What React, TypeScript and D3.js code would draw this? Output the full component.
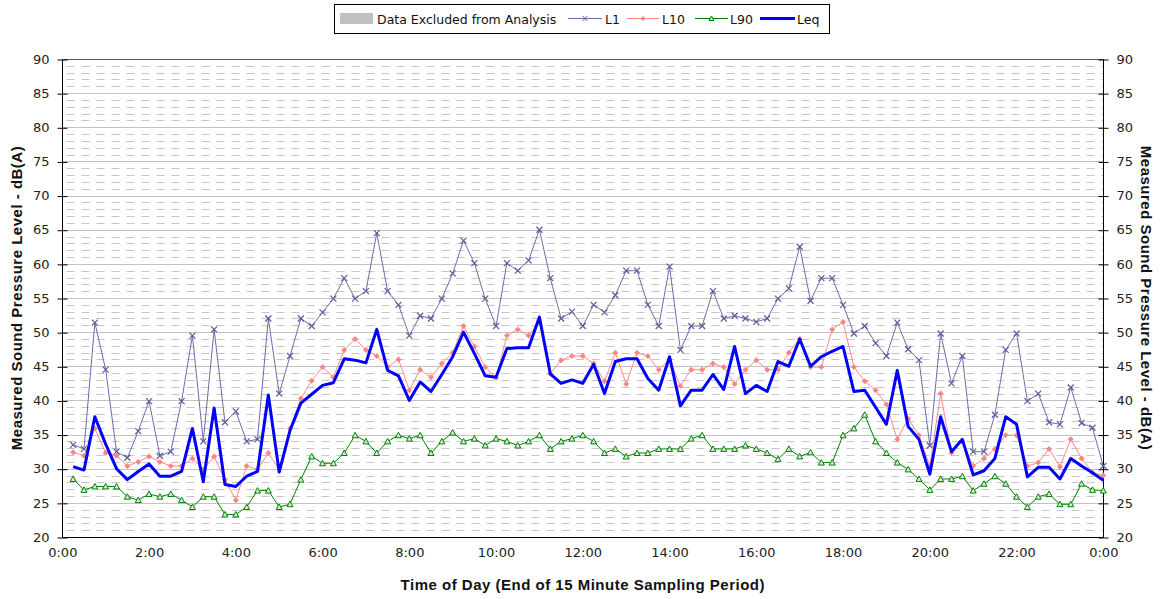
import React, { useRef, useEffect } from 'react';
import * as d3 from 'd3';

// end of each 15 minute sampling period, minutes after midnight
const periodEnd = d3.range(15, 1441, 15);

const l1 = [
  33.5, 32.9, 51.4, 44.5, 32.5, 31.6, 35.5, 39.9, 31.9, 32.5, 39.9, 49.5,
  34.0, 50.4, 36.8, 38.4, 34.0, 34.3, 52.0, 41.0, 46.5, 52.0, 50.9, 52.9,
  54.9, 57.9, 54.9, 56.0, 64.5, 56.0, 54.0, 49.5, 52.4, 52.0, 54.9, 58.6,
  63.4, 60.1, 54.9, 50.9, 60.1, 59.0, 60.5, 65.0, 57.9, 52.0, 53.0, 50.9,
  54.0, 52.9, 55.4, 59.0, 59.0, 54.0, 50.9, 59.6, 47.4, 50.9, 50.9, 56.0,
  52.0, 52.4, 52.0, 51.5, 52.0, 54.9, 56.4, 62.5, 54.6, 57.9, 57.9, 54.0,
  49.8, 50.9, 48.4, 46.5, 51.4, 47.5, 45.9, 33.4, 49.8, 42.5, 46.5, 32.5,
  32.5, 37.9, 47.4, 49.8, 39.9, 41.0, 36.8, 36.5, 41.9, 36.7, 36.0, 30.4
];

const l10 = [
  32.4, 31.9, 35.9, 32.3, 31.9, 30.4, 31.0, 31.8, 31.0, 30.4, 30.4, 31.5,
  29.9, 31.8, 28.4, 25.4, 30.4, 29.9, 32.3, 29.9, 35.9, 40.3, 42.9, 44.9,
  43.4, 47.4, 49.0, 47.4, 46.5, 44.9, 46.0, 41.5, 44.5, 43.4, 45.4, 47.0,
  50.9, 47.9, 44.9, 43.3, 49.5, 50.4, 49.5, 51.5, 43.9, 45.9, 46.5, 46.5,
  45.4, 42.8, 47.0, 42.4, 47.0, 46.5, 44.5, 46.0, 42.1, 44.5, 44.5, 45.4,
  44.9, 42.4, 44.5, 45.9, 44.5, 44.5, 47.0, 49.0, 44.9, 44.9, 50.4, 51.5,
  44.9, 42.8, 41.5, 39.4, 34.3, 37.3, 34.9, 30.4, 41.0, 32.3, 34.0, 30.4,
  31.5, 32.9, 34.9, 34.9, 30.4, 30.9, 32.9, 30.3, 34.3, 31.5, 29.4, 29.0
];

const l90 = [
  28.5, 26.9, 27.4, 27.4, 27.4, 25.9, 25.4, 26.3, 25.9, 26.3, 25.4, 24.4,
  25.9, 25.9, 23.3, 23.3, 24.4, 26.8, 26.8, 24.4, 24.8, 28.4, 31.8, 30.8,
  30.8, 32.3, 34.9, 34.0, 32.3, 34.0, 34.9, 34.4, 34.9, 32.3, 34.0, 35.3,
  34.0, 34.4, 33.4, 34.4, 34.0, 33.4, 34.0, 34.9, 32.9, 34.0, 34.4, 34.9,
  34.0, 32.3, 32.9, 31.8, 32.3, 32.3, 32.9, 32.9, 32.9, 34.4, 34.9, 32.9,
  32.9, 32.9, 33.4, 32.9, 32.3, 31.4, 32.9, 31.8, 32.4, 30.9, 30.9, 34.9,
  35.9, 37.9, 34.0, 32.3, 30.9, 29.9, 28.5, 26.9, 28.5, 28.5, 28.9, 26.8,
  27.8, 28.9, 27.8, 25.9, 24.4, 25.9, 26.3, 24.8, 24.8, 27.8, 26.9, 26.8
];

const leq = [
  30.3, 29.8, 37.6, 33.6, 30.0, 28.4, 29.6, 30.7, 28.9, 28.9, 29.6, 35.9,
  28.1, 38.9, 27.7, 27.4, 28.9, 29.6, 40.8, 29.5, 35.6, 39.6, 40.9, 42.2,
  42.6, 46.1, 45.9, 45.5, 50.4, 44.4, 43.6, 40.0, 42.7, 41.3, 43.8, 46.4,
  50.0, 46.9, 43.6, 43.4, 47.6, 47.7, 47.7, 52.2, 43.9, 42.5, 43.0, 42.5,
  45.3, 41.0, 45.7, 46.1, 46.1, 43.2, 41.5, 46.4, 39.2, 41.5, 41.5, 43.8,
  41.6, 47.9, 41.0, 42.2, 41.3, 45.7, 45.0, 49.0, 45.0, 46.4, 47.2, 47.9,
  41.3, 41.5, 39.0, 36.5, 44.4, 36.2, 34.3, 29.2, 37.6, 32.5, 34.3, 29.1,
  29.7, 31.5, 37.6, 36.5, 28.8, 30.2, 30.2, 28.5, 31.5, 30.4, 29.4, 28.3
];

const xTickLabels = ['0:00', '2:00', '4:00', '6:00', '8:00', '10:00', '12:00',
  '14:00', '16:00', '18:00', '20:00', '22:00', '0:00'];
const yMajor = [20, 25, 30, 35, 40, 45, 50, 55, 60, 65, 70, 75, 80, 85, 90];

const font = '"DejaVu Sans", sans-serif';
const boldFont = '"Liberation Sans", Arial, sans-serif';

function App() {
  const ref = useRef<SVGSVGElement>(null);
  const width = 1161;
  const height = 599;
  const left = 62.3;
  const right = 1103.3;
  const top = 59;
  const bottom = 537;

  useEffect(() => {
    const svg = d3.select(ref.current);
    svg.selectAll('*').remove();

    const x = d3.scaleLinear().domain([0, 1440]).range([left, right]);
    const y = d3.scaleLinear().domain([20, 90]).range([bottom, top]);
    const py = (v: number) => Math.round(y(v)) + 0.5;
    const px = (v: number) => Math.round(x(v)) + 0.5;

    // grid: dashed every 1 dB, solid every 5 dB
    svg.append('g').selectAll('line')
      .data(d3.range(21, 90).filter(v => v % 5 !== 0))
      .enter().append('line')
        .attr('x1', px(0) + 4).attr('x2', px(1440))
        .attr('y1', py).attr('y2', py)
        .attr('stroke', '#c6c6c6')
        .attr('stroke-dasharray', '8,7');
    svg.append('g').selectAll('line')
      .data(yMajor.filter(v => v > 20 && v < 90))
      .enter().append('line')
        .attr('x1', px(0)).attr('x2', px(1440))
        .attr('y1', py).attr('y2', py)
        .attr('stroke', '#c2c2c2');
    svg.append('line')
      .attr('x1', px(0)).attr('x2', px(1440))
      .attr('y1', py(90)).attr('y2', py(90))
      .attr('stroke', '#555');

    // left axis
    const gl = svg.append('g').attr('transform', `translate(${px(0)},0)`);
    gl.call(d3.axisLeft(y).tickValues(d3.range(20, 91)).tickSize(4).tickFormat(() => ''));
    gl.call(d3.axisLeft(y).tickValues(yMajor).tickSize(5).tickPadding(8));
    gl.selectAll('.tick line').attr('y1', 0.5).attr('y2', 0.5);
    gl.selectAll('.tick').filter((d: any) => d % 5 === 0).append('line')
      .attr('x1', 0).attr('x2', 5).attr('y1', 0.5).attr('y2', 0.5).attr('stroke', '#000');

    // right axis
    const gr = svg.append('g').attr('transform', `translate(${px(1440)},0)`);
    gr.call(d3.axisRight(y).tickValues(d3.range(20, 91)).tickSize(4).tickFormat(() => ''));
    gr.call(d3.axisRight(y).tickValues(yMajor).tickSize(5).tickPadding(8));
    gr.selectAll('.tick line').attr('y1', 0.5).attr('y2', 0.5);
    gr.selectAll('.tick').filter((d: any) => d % 5 === 0).append('line')
      .attr('x1', 0).attr('x2', -5).attr('y1', 0.5).attr('y2', 0.5).attr('stroke', '#000');

    // bottom axis
    const gb = svg.append('g').attr('transform', `translate(0,${py(20)})`);
    gb.call(d3.axisTop(x).tickValues(d3.range(0, 1441, 30)).tickSize(4).tickFormat(() => ''));
    gb.selectAll('.tick line').attr('x1', 0.5).attr('x2', 0.5);
    gb.call(d3.axisBottom(x).tickValues(d3.range(0, 1441, 120)).tickSize(0).tickPadding(19)
      .tickFormat((d, i) => xTickLabels[i]));

    [gl, gr, gb].forEach(g => {
      g.selectAll('.domain').remove();
      g.selectAll('text').attr('font-family', font).attr('font-size', 13).attr('fill', '#222');
      g.attr('font-family', font);
    });

    // axis lines
    svg.append('line').attr('x1', px(0)).attr('x2', px(0)).attr('y1', py(90)).attr('y2', py(20)).attr('stroke', '#000');
    svg.append('line').attr('x1', px(1440)).attr('x2', px(1440)).attr('y1', py(90)).attr('y2', py(20)).attr('stroke', '#000');
    svg.append('line').attr('x1', px(0)).attr('x2', px(1440)).attr('y1', py(20)).attr('y2', py(20)).attr('stroke', '#000');

    // series
    const line = d3.line<number>().x((d, i) => x(periodEnd[i])).y(d => y(d));

    svg.append('path').datum(l1).attr('d', line).attr('fill', 'none')
      .attr('stroke', '#6c6cab').attr('stroke-width', 1);
    svg.append('g').selectAll('path').data(l1).enter().append('path')
      .attr('transform', (d, i) => `translate(${x(periodEnd[i])},${y(d)})`)
      .attr('d', 'M-3,-3L3,3M-3,3L3,-3')
      .attr('stroke', '#5c5c9c').attr('stroke-width', 1.2).attr('fill', 'none');

    svg.append('path').datum(l10).attr('d', line).attr('fill', 'none')
      .attr('stroke', '#ff8a8a').attr('stroke-width', 1);
    svg.append('g').selectAll('path').data(l10).enter().append('path')
      .attr('transform', (d, i) => `translate(${x(periodEnd[i])},${y(d)})`)
      .attr('d', 'M0,-3L3,0L0,3L-3,0Z')
      .attr('fill', '#ff8585');

    svg.append('path').datum(l90).attr('d', line).attr('fill', 'none')
      .attr('stroke', '#008000').attr('stroke-width', 1);
    svg.append('g').selectAll('path').data(l90).enter().append('path')
      .attr('transform', (d, i) => `translate(${x(periodEnd[i])},${y(d)})`)
      .attr('d', 'M0,-3L3,2.5L-3,2.5Z')
      .attr('fill', '#d6ecd6').attr('stroke', '#008000').attr('stroke-width', 1);

    svg.append('path').datum(leq).attr('d', line).attr('fill', 'none')
      .attr('stroke', '#0000ff').attr('stroke-width', 3).attr('stroke-linejoin', 'round');

    // axis titles
    const title = (sel: any) => sel
      .attr('text-anchor', 'middle')
      .attr('font-family', boldFont).attr('font-weight', 'bold').attr('font-size', 15)
      .attr('letter-spacing', 0.5).attr('fill', '#111');
    svg.append('text')
      .attr('x', (left + right) / 2).attr('y', 590)
      .call(title)
      .text('Time of Day (End of 15 Minute Sampling Period)');
    svg.append('text')
      .attr('transform', `translate(22,${(top + bottom) / 2}) rotate(-90)`)
      .call(title)
      .text('Measured Sound Pressure Level - dB(A)');
    svg.append('text')
      .attr('transform', `translate(1141,${(top + bottom) / 2}) rotate(90)`)
      .call(title)
      .text('Measured Sound Pressure Level - dB(A)');

    // legend
    const lg = svg.append('g').attr('font-family', font).attr('font-size', 12.5).attr('fill', '#111');
    lg.append('rect').attr('x', 334.5).attr('y', 4.5).attr('width', 495).attr('height', 29)
      .attr('fill', '#fff').attr('stroke', '#000');
    lg.append('rect').attr('x', 340).attr('y', 13).attr('width', 33).attr('height', 11).attr('fill', '#c0c0c0');
    lg.append('text').attr('x', 377).attr('y', 23.5).text('Data Excluded from Analysis');

    lg.append('line').attr('x1', 568).attr('x2', 602).attr('y1', 18.5).attr('y2', 18.5).attr('stroke', '#6c6cab');
    lg.append('path').attr('transform', 'translate(585,18.5)').attr('d', 'M-2.5,-2.5L2.5,2.5M-2.5,2.5L2.5,-2.5')
      .attr('stroke', '#5c5c9c').attr('fill', 'none');
    lg.append('text').attr('x', 605).attr('y', 23.5).text('L1');

    lg.append('line').attr('x1', 627).attr('x2', 659).attr('y1', 18.5).attr('y2', 18.5).attr('stroke', '#ff8a8a');
    lg.append('path').attr('transform', 'translate(643,18.5)').attr('d', 'M0,-2.5L2.5,0L0,2.5L-2.5,0Z').attr('fill', '#ff8585');
    lg.append('text').attr('x', 662).attr('y', 23.5).text('L10');

    lg.append('line').attr('x1', 695).attr('x2', 728).attr('y1', 18.5).attr('y2', 18.5).attr('stroke', '#008000');
    lg.append('path').attr('transform', 'translate(711.5,18.5)').attr('d', 'M0,-2.5L2.5,2L-2.5,2Z')
      .attr('fill', '#d6ecd6').attr('stroke', '#008000');
    lg.append('text').attr('x', 730).attr('y', 23.5).text('L90');

    lg.append('line').attr('x1', 760).attr('x2', 795).attr('y1', 18.5).attr('y2', 18.5).attr('stroke', '#0000ff').attr('stroke-width', 3);
    lg.append('text').attr('x', 797).attr('y', 23.5).text('Leq');
  }, []);

  return (
    <svg ref={ref} width={width} height={height}
      style={{ position: 'absolute', left: 0, top: 0, background: '#fff' }} />
  );
}

export default App;
